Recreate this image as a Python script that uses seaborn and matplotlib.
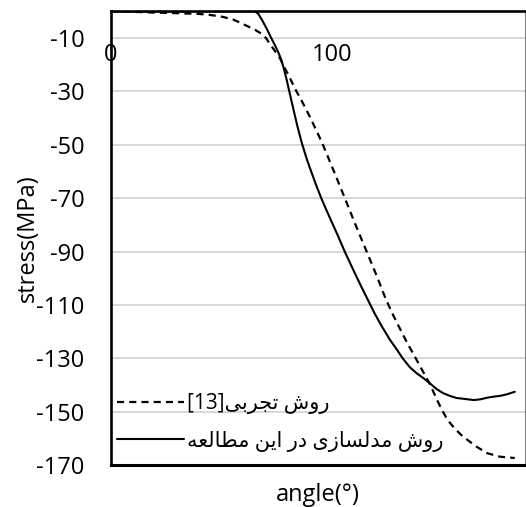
import matplotlib
matplotlib.use("Agg")
import matplotlib.pyplot as plt
import seaborn as sns
import pandas as pd

# ---- data ----
model_angle = [0, 60, 65, 66.5, 68.2, 70.4, 72.5, 74, 75.5, 77, 78.2, 79.4, 80.5, 82.3,
               84.2, 86.1, 88.5, 91, 93, 95.1, 97.5, 100, 102.8, 105.6, 110, 113, 116,
               119, 122, 126, 129, 131.8, 135, 138, 141, 144, 147, 150, 153, 156, 160,
               164, 167, 170, 173, 176, 179, 182.4]
model_stress = [0, 0, 0, -0.9, -3.2, -6.6, -10.2, -12.6, -15.2, -18.3, -21.8, -25.8,
                -29.8, -36.3, -43, -49, -55.5, -61.3, -65.8, -70.2, -74.8, -79.4, -84.6,
                -90, -97.8, -103, -108, -113, -117.5, -123, -126.5, -130, -133.3, -135.5,
                -137.3, -139.3, -141.4, -143, -144, -144.8, -145.2, -145.6, -145.3,
                -144.7, -144.3, -144, -143.4, -142.5]

exp_angle = [0, 10, 20, 30, 40, 45, 50, 55, 58.2, 61.2, 65, 68, 70, 72, 74, 76.3, 78, 80,
             82, 83.8, 86, 88, 90, 92, 94, 96, 98, 100, 103, 105.8, 110, 113, 116, 120,
             124, 127, 130, 134, 137.7, 141, 144, 147, 149.3, 152, 155, 158, 161, 165,
             170, 175.6, 182.4]
exp_stress = [0, -0.2, -0.5, -0.7, -1.0, -1.4, -2.0, -3.0, -4.2, -5.4, -6.9, -8.4, -10,
              -12.5, -14.8, -17.5, -20.5, -23.6, -27, -30, -33.3, -36.5, -39.8, -43.3,
              -46.8, -50.5, -54.5, -58.5, -64.6, -70.3, -79, -85, -91, -99, -107.5, -113,
              -118, -124.5, -130, -135, -139.5, -145, -149, -153, -156, -158.5, -160.5,
              -163, -165.5, -166.8, -167.3]

y_ticks = [-10, -30, -50, -70, -90, -110, -130, -150, -170]
x_ticks = [0, 100]

# legend labels (Persian, written in shaped visual order for left-to-right rendering)
label_exp = "[13]" + "\uFEF0\uFE91\uFEAE\uFEA0\uFE97" + " " + "\uFEB5\uFEED\uFEAD"
label_model = ("\uFEEA\uFECC\uFEDF\uFE8E\uFEC4\uFEE3" + " " + "\uFEE6\uFEF3\uFE8D" + " "
               + "\uFEAD\uFEA9" + " " + "\uFEEF\uFEAF\uFE8E\uFEB4\uFEDF\uFEAA\uFEE3" + " "
               + "\uFEB5\uFEED\uFEAD")

sns.set_style("white")
plt.rcParams["font.family"] = ["Open Sans", "DejaVu Sans"]

df_exp = pd.DataFrame({"angle": exp_angle, "stress": exp_stress})
df_model = pd.DataFrame({"angle": model_angle, "stress": model_stress})

fig = plt.figure(figsize=(5.26, 5.07), dpi=100)
ax = fig.add_axes([0.211, 0.0824, 0.787, 0.8953])

sns.lineplot(data=df_exp, x="angle", y="stress", ax=ax, color="black", lw=1.6,
             label=label_exp, sort=False)
ax.lines[-1].set_dashes((3.2, 2.3))
sns.lineplot(data=df_model, x="angle", y="stress", ax=ax, color="black", lw=1.5,
             label=label_model, sort=False)

ax.set_xlim(0, 187)
ax.set_ylim(-170, 0)
ax.set_yticks(y_ticks)
ax.set_xticks(x_ticks)
ax.set_yticklabels([str(v) for v in y_ticks])
ax.set_xticklabels([str(v) for v in x_ticks])

ax.grid(axis="y", color="#d4d4d4", lw=1.3)
ax.grid(axis="x", visible=False)
ax.set_axisbelow(True)

ax.xaxis.set_ticks_position("top")
ax.tick_params(axis="x", length=0, pad=-40, labeltop=True, labelbottom=False,
               labelsize=17, colors="black")
ax.tick_params(axis="y", length=0, pad=19, labelsize=17, colors="black")

for side in ["left", "top", "bottom"]:
    ax.spines[side].set_color("black")
    ax.spines[side].set_linewidth(1.9)
ax.spines["bottom"].set_linewidth(2.2)
ax.spines["right"].set_color("#808080")
ax.spines["right"].set_linewidth(0.8)

ax.set_xlabel("angle(°)", fontsize=17, color="black", labelpad=13)
ax.set_ylabel("stress(MPa)", fontsize=17, color="black")
ax.yaxis.set_label_coords(-0.171, 0.5)

leg = ax.legend(loc="lower left", bbox_to_anchor=(0.015, 0.03), frameon=False,
                prop={"family": ["Open Sans", "DejaVu Sans"], "size": 15},
                handlelength=3.2, handletextpad=0.15, labelspacing=0.8,
                borderpad=0, borderaxespad=0)
for t in leg.get_texts():
    t.set_color("black")

fig.savefig("out.png", dpi=100)
